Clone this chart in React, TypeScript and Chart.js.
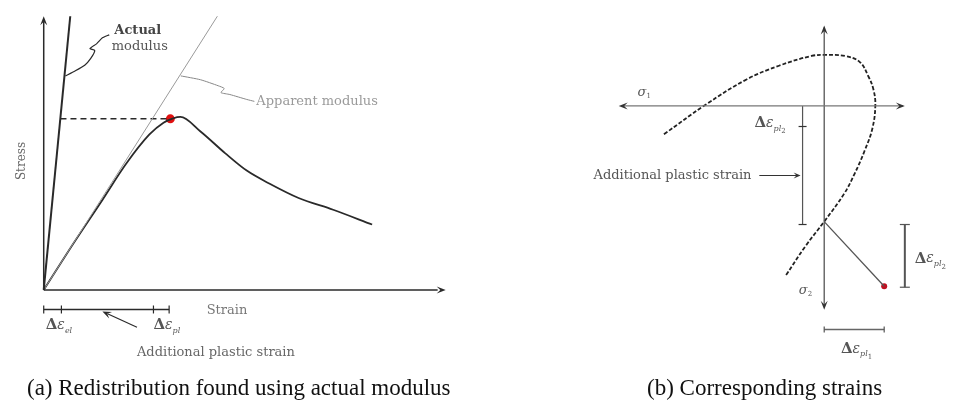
import React, { useEffect, useRef } from "react";
import { Chart, registerables } from "chart.js";
Chart.register(...registerables);

// ---------- Panel (a): stress vs strain (normalised units) ----------
const actualModulusLine = [{ x: 0, y: 0 }, { x: 0.066, y: 1.0 }];
const apparentModulusLine = [{ x: 0, y: 0 }, { x: 0.432, y: 1.0 }];
const curveStrain = [0, 0.073, 0.146, 0.205, 0.263, 0.298, 0.322, 0.34, 0.39, 0.451, 0.505, 0.561, 0.634, 0.72, 0.817];
const curveStress = [0, 0.168, 0.329, 0.461, 0.568, 0.611, 0.627, 0.632, 0.579, 0.5, 0.436, 0.389, 0.336, 0.293, 0.239];
const peakStress = 0.625;
const redistStrain = 0.315;
const elasticStrain = 0.044;
const plasticStart = 0.273;
const plasticEnd = 0.312;
const actualLeaderX = [0.054, 0.078, 0.102, 0.117, 0.127, 0.115, 0.132, 0.146, 0.163];
const actualLeaderY = [0.782, 0.8, 0.821, 0.846, 0.875, 0.882, 0.9, 0.921, 0.932];
const apparentLeaderX = [0.341, 0.39, 0.434, 0.449, 0.441, 0.463, 0.505, 0.524];
const apparentLeaderY = [0.782, 0.768, 0.746, 0.736, 0.721, 0.714, 0.696, 0.689];

// ---------- Panel (b): principal stress space ----------
const surfaceS1 = [-1.63, -1.21, -0.79, -0.46, -0.13, 0.01, 0.21, 0.36, 0.45, 0.5, 0.52, 0.49, 0.41, 0.31, 0.2, 0.0, -0.19, -0.39];
const surfaceS2 = [-0.29, 0.01, 0.27, 0.41, 0.51, 0.52, 0.51, 0.45, 0.3, 0.17, 0.01, -0.23, -0.46, -0.69, -0.9, -1.18, -1.43, -1.73];
const cornerPoint = { x: 0, y: -1.18 };
const strainTip = { x: 0.61, y: -1.84 };
const addPlasticX = -0.22;
const addPlasticTick = -0.21;
const dEpl2Top = -1.21;
const dEpl2Bottom = -1.85;
const dEpl2X = 0.82;
const dEpl1Y = -2.28;

const zip = (xs: number[], ys: number[]) => xs.map((x, i) => ({ x, y: ys[i] }));

type Part = { t: string; f: string; dy?: number };
type Label = { x: number; y: number; parts: Part[]; color: string; align?: "left" | "center" | "right"; rot?: number };
type Arrow = { from: { x: number; y: number }; to: { x: number; y: number }; color: string; len?: number; w?: number };
type Tick = { x: number; y: number; dir: "h" | "v"; len: number; color: string };

const SERIF = "'DejaVu Serif', serif";
const txt = (t: string, size = 13, style = "") => ({ t, f: `${style} ${size}px ${SERIF}`.trim() });
const deltaEps = (sub: string, sub2?: string): Part[] => {
  const p: Part[] = [
    { t: "Δ", f: `bold 15px ${SERIF}` },
    { t: "ε", f: `italic 14px ${SERIF}` },
    { t: sub, f: `italic 8px ${SERIF}`, dy: 5 },
  ];
  if (sub2) p.push({ t: sub2, f: `7px ${SERIF}`, dy: 8 });
  return p;
};

function makeDeco(labels: Label[], arrows: Arrow[], ticks: Tick[]) {
  return {
    id: "deco",
    afterDatasetsDraw(chart: any) {
      const ctx = chart.ctx as CanvasRenderingContext2D;
      const xs = chart.scales.x, ys = chart.scales.y;
      const px = (v: number) => xs.getPixelForValue(v);
      const py = (v: number) => ys.getPixelForValue(v);
      ctx.save();
      for (const t of ticks) {
        const cx = px(t.x), cy = py(t.y);
        ctx.strokeStyle = t.color;
        ctx.lineWidth = 1.2;
        ctx.beginPath();
        if (t.dir === "h") { ctx.moveTo(cx - t.len, cy); ctx.lineTo(cx + t.len, cy); }
        else { ctx.moveTo(cx, cy - t.len); ctx.lineTo(cx, cy + t.len); }
        ctx.stroke();
      }
      for (const a of arrows) {
        const x1 = px(a.from.x), y1 = py(a.from.y), x2 = px(a.to.x), y2 = py(a.to.y);
        const ang = Math.atan2(y2 - y1, x2 - x1);
        const L = a.len ?? 9, W = a.w ?? 3.5;
        ctx.fillStyle = a.color;
        ctx.beginPath();
        ctx.moveTo(x2, y2);
        ctx.lineTo(x2 - L * Math.cos(ang) + W * Math.sin(ang), y2 - L * Math.sin(ang) - W * Math.cos(ang));
        ctx.lineTo(x2 - L * 0.6 * Math.cos(ang), y2 - L * 0.6 * Math.sin(ang));
        ctx.lineTo(x2 - L * Math.cos(ang) - W * Math.sin(ang), y2 - L * Math.sin(ang) + W * Math.cos(ang));
        ctx.closePath();
        ctx.fill();
      }
      ctx.textBaseline = "middle";
      for (const l of labels) {
        ctx.save();
        ctx.translate(px(l.x), py(l.y));
        if (l.rot) ctx.rotate(l.rot);
        let total = 0;
        for (const p of l.parts) { ctx.font = p.f; total += ctx.measureText(p.t).width; }
        let cx = l.align === "center" ? -total / 2 : l.align === "right" ? -total : 0;
        ctx.fillStyle = l.color;
        ctx.textAlign = "left";
        for (const p of l.parts) {
          ctx.font = p.f;
          ctx.fillText(p.t, cx, p.dy ?? 0);
          cx += ctx.measureText(p.t).width;
        }
        ctx.restore();
      }
      ctx.restore();
    },
  };
}

const line = (data: any[], color: string, width = 1.3, extra: any = {}) => ({
  data, showLine: true, borderColor: color, borderWidth: width, pointRadius: 0, fill: false, ...extra,
});

function useChart(ref: React.RefObject<HTMLCanvasElement>, build: () => any) {
  useEffect(() => {
    if (!ref.current) return;
    const c = new Chart(ref.current, build());
    return () => c.destroy();
  }, []);
}

const baseOptions = (xmin: number, xmax: number, ymin: number, ymax: number) => ({
  animation: false,
  responsive: false,
  layout: { padding: 0 },
  plugins: { legend: { display: false }, tooltip: { enabled: false } },
  scales: {
    x: { type: "linear", min: xmin, max: xmax, display: false },
    y: { type: "linear", min: ymin, max: ymax, display: false },
  },
});

export default function App() {
  const leftRef = useRef<HTMLCanvasElement>(null);
  const rightRef = useRef<HTMLCanvasElement>(null);

  useChart(leftRef, () => {
    const dark = "#2a2a2a";
    const labels: Label[] = [
      { x: 0.234, y: 0.946, parts: [txt("Actual", 13, "bold")], color: "#444", align: "center" },
      { x: 0.239, y: 0.889, parts: [txt("modulus", 13)], color: "#555", align: "center" },
      { x: 0.529, y: 0.689, parts: [txt("Apparent modulus", 13)], color: "#9a9a9a", align: "left" },
      { x: -0.054, y: 0.471, parts: [txt("Stress", 12)], color: "#666", align: "center", rot: -Math.PI / 2 },
      { x: 0.456, y: -0.075, parts: [txt("Strain", 13)], color: "#777", align: "center" },
      { x: 0.005, y: -0.13, parts: deltaEps("el"), color: "#555", align: "left" },
      { x: 0.273, y: -0.13, parts: deltaEps("pl"), color: "#555", align: "left" },
      { x: 0.232, y: -0.229, parts: [txt("Additional plastic strain", 13)], color: "#666", align: "left" },
    ];
    const arrows: Arrow[] = [
      { from: { x: 0, y: 0.9 }, to: { x: 0, y: 1.0 }, color: dark },
      { from: { x: 0.9, y: 0 }, to: { x: 1.0, y: 0 }, color: dark },
      { from: { x: 0.232, y: -0.136 }, to: { x: 0.146, y: -0.079 }, color: dark },
    ];
    const ticks: Tick[] = [0, elasticStrain, plasticStart, plasticEnd].map((x) => ({ x, y: -0.0714, dir: "v", len: 4, color: dark }));
    return {
      type: "scatter",
      data: {
        datasets: [
          line([{ x: 0, y: 0 }, { x: 0, y: 0.98 }], dark, 1.5),
          line([{ x: 0, y: 0 }, { x: 0.98, y: 0 }], dark, 1.5),
          line(actualModulusLine, dark, 2),
          line(apparentModulusLine, "#9a9a9a", 1),
          line([{ x: elasticStrain * peakStress / 0.66, y: peakStress }, { x: redistStrain - 0.003, y: peakStress }], dark, 1.5, { borderDash: [6, 4] }),
          line(zip(curveStrain, curveStress), dark, 1.8, { cubicInterpolationMode: "monotone" }),
          line(zip(actualLeaderX, actualLeaderY), dark, 1.2, { tension: 0.2 }),
          line(zip(apparentLeaderX, apparentLeaderY), "#888", 1, { tension: 0.2 }),
          line([{ x: 0, y: -0.0714 }, { x: plasticEnd, y: -0.0714 }], dark, 1.5),
          line([{ x: 0.232, y: -0.136 }, { x: 0.16, y: -0.088 }], dark, 1.2),
          { data: [{ x: redistStrain, y: peakStress }], pointRadius: 4.5, pointBackgroundColor: "#e01010", pointBorderWidth: 0, showLine: false },
        ],
      },
      options: baseOptions(-40 / 410, 420 / 410, (292 - 401) / 280, 292 / 280),
      plugins: [makeDeco(labels, arrows, ticks)],
    };
  });

  useChart(rightRef, () => {
    const dark = "#333";
    const gray = "#777";
    const labels: Label[] = [
      { x: -1.83, y: 0.14, parts: [{ t: "σ", f: `italic 13px ${SERIF}` }, { t: "1", f: `7px ${SERIF}`, dy: 4 }], color: "#555", align: "center" },
      { x: -0.71, y: -0.18, parts: deltaEps("pl", "2"), color: "#555", align: "left" },
      { x: -0.74, y: -0.71, parts: [txt("Additional plastic strain", 13)], color: "#555", align: "right" },
      { x: -0.19, y: -1.88, parts: [{ t: "σ", f: `italic 13px ${SERIF}` }, { t: "2", f: `7px ${SERIF}`, dy: 4 }], color: "#555", align: "center" },
      { x: 0.92, y: -1.56, parts: deltaEps("pl", "2"), color: "#555", align: "left" },
      { x: 0.17, y: -2.48, parts: deltaEps("pl", "1"), color: "#555", align: "left" },
    ];
    const arrows: Arrow[] = [
      { from: { x: -1.9, y: 0 }, to: { x: -2.09, y: 0 }, color: dark },
      { from: { x: 0.7, y: 0 }, to: { x: 0.82, y: 0 }, color: dark },
      { from: { x: 0, y: 0.7 }, to: { x: 0, y: 0.82 }, color: dark },
      { from: { x: 0, y: -1.9 }, to: { x: 0, y: -2.08 }, color: dark },
      { from: { x: -0.5, y: -0.71 }, to: { x: addPlasticX - 0.02, y: -0.71 }, color: dark, len: 7, w: 3 },
    ];
    const ticks: Tick[] = [
      { x: addPlasticX, y: addPlasticTick, dir: "h", len: 4, color: dark },
      { x: addPlasticX, y: dEpl2Top, dir: "h", len: 4, color: dark },
      { x: dEpl2X, y: dEpl2Top, dir: "h", len: 5, color: "#555" },
      { x: dEpl2X, y: dEpl2Bottom, dir: "h", len: 5, color: "#555" },
      { x: cornerPoint.x, y: dEpl1Y, dir: "v", len: 3, color: "#555" },
      { x: strainTip.x, y: dEpl1Y, dir: "v", len: 3, color: "#555" },
    ];
    return {
      type: "scatter",
      data: {
        datasets: [
          line([{ x: -2.05, y: 0 }, { x: 0.8, y: 0 }], gray, 1.2),
          line([{ x: 0, y: 0.8 }, { x: 0, y: -2.05 }], "#555", 1.3),
          line(zip(surfaceS1, surfaceS2), "#222", 1.8, { tension: 0.4, borderDash: [4, 2] }),
          line([cornerPoint, strainTip], "#555", 1.3),
          line([{ x: addPlasticX, y: 0 }, { x: addPlasticX, y: dEpl2Top }], "#555", 1.2),
          line([{ x: -0.66, y: -0.71 }, { x: addPlasticX - 0.05, y: -0.71 }], dark, 1.2),
          line([{ x: dEpl2X, y: dEpl2Top }, { x: dEpl2X, y: dEpl2Bottom }], "#555", 2),
          line([{ x: cornerPoint.x, y: dEpl1Y }, { x: strainTip.x, y: dEpl1Y }], "#666", 1.5),
          { data: [strainTip], pointRadius: 3, pointBackgroundColor: "#c01020", pointBorderWidth: 0, showLine: false },
        ],
      },
      options: baseOptions((480 - 826) / 100, (958 - 826) / 100, (104 - 401) / 100, 104 / 100),
      plugins: [makeDeco(labels, arrows, ticks)],
    };
  });

  const cap: React.CSSProperties = {
    position: "absolute", top: 376, fontFamily: "'Liberation Serif', 'Times New Roman', serif",
    fontSize: 23, lineHeight: "23px", color: "#111", whiteSpace: "nowrap",
  };
  return (
    <div style={{ position: "fixed", left: 0, top: 0, width: 958, height: 401, background: "#fff", overflow: "hidden" }}>
      <canvas ref={leftRef} width={460} height={401} style={{ position: "absolute", left: 0, top: 0 }} />
      <canvas ref={rightRef} width={478} height={401} style={{ position: "absolute", left: 480, top: 0 }} />
      <div style={{ ...cap, left: 27 }}>(a) Redistribution found using actual modulus</div>
      <div style={{ ...cap, left: 647 }}>(b) Corresponding strains</div>
    </div>
  );
}
